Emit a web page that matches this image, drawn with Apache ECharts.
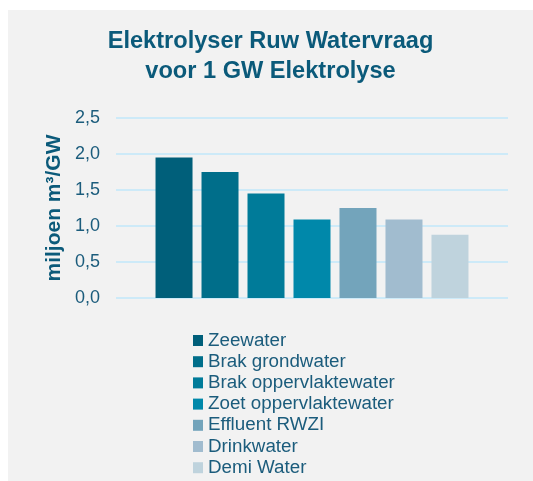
<!DOCTYPE html>
<html>
<head>
<meta charset="utf-8">
<script src="https://cdn.jsdelivr.net/npm/echarts@6/dist/echarts.min.js"></script>
<style>
  html, body { margin: 0; padding: 0; background: #ffffff; overflow: hidden; }
  #chart { position: absolute; left: 8px; top: 10px; width: 525px; height: 471px; }
</style>
</head>
<body>
<div id="chart"></div>
<script>
// ---- data ----
const titleLines = ['Elektrolyser Ruw Watervraag', 'voor 1 GW Elektrolyse'];
const yAxisName = 'miljoen m³/GW';
const categories = [''];
const seriesNames = ['Zeewater', 'Brak grondwater', 'Brak oppervlaktewater', 'Zoet oppervlaktewater', 'Effluent RWZI', 'Drinkwater', 'Demi Water'];
const seriesValues = [1.95, 1.75, 1.45, 1.09, 1.25, 1.09, 0.88];
const seriesColors = ['#005f7a', '#006e8a', '#007b99', '#0088aa', '#73a4bb', '#a1bccf', '#bfd3dd'];
const yTicks = { min: 0, max: 2.5, interval: 0.5 };

const FONT = "'Liberation Sans', Arial, sans-serif";
const chart = echarts.init(document.getElementById('chart'));
const series = seriesNames.map((name, i) => ({
  name: name,
  type: 'bar',
  data: [seriesValues[i]],
  barWidth: 37,
  barGap: '24.3%',
  itemStyle: { color: seriesColors[i] }
}));

chart.setOption({
  backgroundColor: '#f2f2f2',
  animation: false,
  textStyle: { fontFamily: FONT },
  title: {
    text: titleLines.join('\n'),
    left: 'center',
    top: 16.5,
    padding: 0,
    textStyle: {
      fontFamily: FONT,
      fontSize: 23.6,
      fontWeight: 'bold',
      color: '#0b5a7a',
      lineHeight: 30
    }
  },
  legend: {
    orient: 'vertical',
    left: 185,
    top: 321,
    height: 150,
    padding: 0,
    itemWidth: 10,
    itemHeight: 11,
    itemGap: 2.2,
    icon: 'rect',
    textStyle: {
      fontFamily: FONT,
      fontSize: 18.8,
      lineHeight: 18.8,
      color: '#1b5c7c'
    },
    data: seriesNames
  },
  grid: { left: 108, right: 25, top: 108, bottom: 183, containLabel: false },
  xAxis: {
    type: 'category',
    data: categories,
    axisLine: { show: false },
    axisTick: { show: false },
    axisLabel: { show: false }
  },
  yAxis: {
    type: 'value',
    min: yTicks.min,
    max: yTicks.max,
    interval: yTicks.interval,
    name: yAxisName,
    nameLocation: 'middle',
    nameRotate: 90,
    nameGap: 51,
    nameMoveOverlap: false,
    nameTextStyle: {
      fontFamily: FONT,
      fontSize: 21,
      fontWeight: 'bold',
      color: '#0b5a7a'
    },
    axisLine: { show: false },
    axisTick: { show: false },
    axisLabel: {
      margin: 16,
      fontFamily: FONT,
      fontSize: 18,
      color: '#1b5c7c',
      formatter: v => v.toFixed(1).replace('.', ',')
    },
    splitLine: { lineStyle: { color: '#cdeaf8', width: 2 } }
  },
  series: series
});
</script>
</body>
</html>
